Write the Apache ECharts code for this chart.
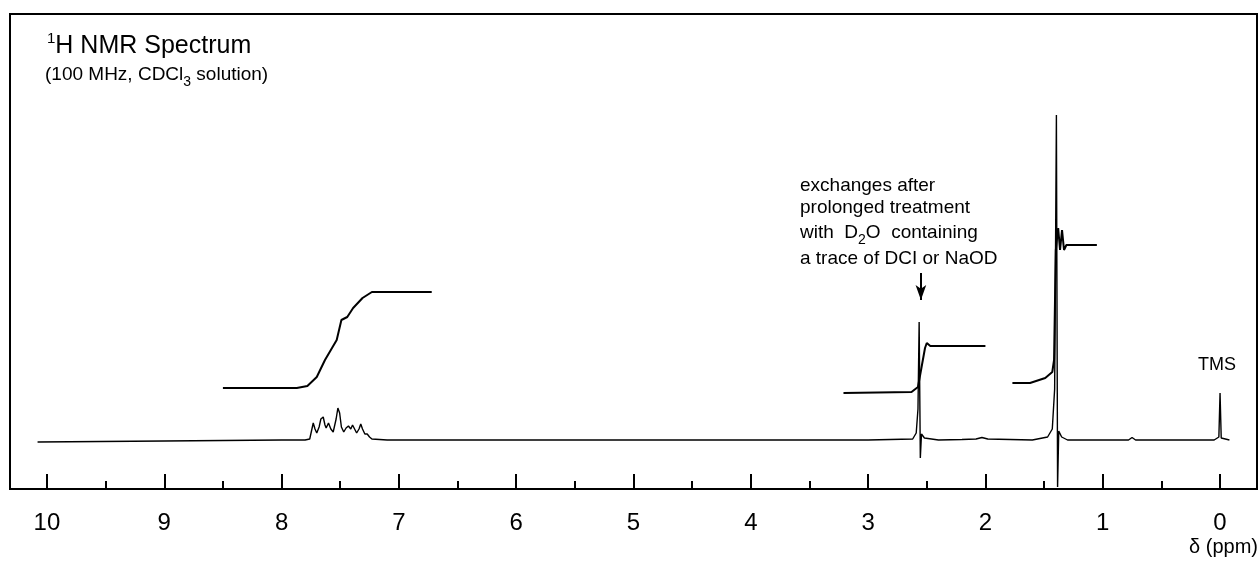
<!DOCTYPE html>
<html>
<head>
<meta charset="utf-8">
<script src="https://cdn.jsdelivr.net/npm/echarts@6/dist/echarts.min.js"></script>
<style>html,body{margin:0;padding:0;background:#fff}#c{width:1260px;height:561px}</style>
</head>
<body>
<div id="c"></div>
<script>
// ---- data (chemical shift in ppm, intensity in arbitrary units) ----
var majorTicks = [0,1,2,3,4,5,6,7,8,9,10];
var minorTicks = [0.5,1.5,2.5,3.5,4.5,5.5,6.5,7.5,8.5,9.5];

var specPpm = [10.08, 9.0, 8.0, 7.80, 7.76, 7.745, 7.73, 7.715, 7.70, 7.68, 7.665, 7.645, 7.63, 7.62, 7.60, 7.58, 7.56, 7.535, 7.52, 7.505, 7.49, 7.47, 7.45, 7.43, 7.41, 7.395, 7.38, 7.36, 7.34, 7.325, 7.31, 7.29, 7.27, 7.25, 7.23, 7.1, 5.0, 3.0, 2.62, 2.59, 2.575, 2.565, 2.555, 2.545, 2.52, 2.4, 2.2, 2.08, 2.03, 1.98, 1.6, 1.47, 1.43, 1.41, 1.395, 1.385, 1.375, 1.35, 1.3, 0.78, 0.75, 0.72, 0.05, 0.01, 0.0, -0.01, -0.08];
var specInt = [47, 48, 49, 49, 50, 58, 66, 60, 56, 62, 70, 72, 64, 61, 66, 60, 57, 70, 81, 76, 62, 57, 61, 63, 60, 64, 62, 56, 60, 65, 60, 55, 55, 52, 50, 49, 49, 49, 50, 56, 80, 167, 31, 55, 51, 49, 49.5, 50, 51.5, 50, 49, 52, 60, 100, 374, 2, 58, 52, 49, 49, 51.5, 49, 49, 52, 96, 51, 49];

var intAPpm = [8.50, 7.87, 7.78, 7.70, 7.63, 7.57, 7.53, 7.49, 7.44, 7.39, 7.31, 7.23, 6.72];
var intAVal = [101, 101, 103, 112, 129, 141, 149, 169, 172, 181, 191, 197, 197];

var intBPpm = [3.21, 2.63, 2.575, 2.515, 2.50, 2.47, 2.00];
var intBVal = [96, 97, 102, 141, 146, 143, 143];

var intCPpm = [1.77, 1.62, 1.49, 1.43, 1.415, 1.40, 1.38, 1.364, 1.347, 1.33, 1.31, 1.05];
var intCVal = [106, 106, 111, 117, 129, 239, 261, 239, 259, 239, 244, 244];

var arrowPpm = 2.55;
var arrowFrom = 216;
var arrowTo = 189;

function pairs(xs, ys){ var o=[]; for (var i=0;i<xs.length;i++) o.push([xs[i], ys[i]]); return o; }

var chart = echarts.init(document.getElementById('c'), null, {renderer:'canvas'});
var FONT = '"Liberation Sans", Arial, Helvetica, sans-serif';
var lineBase = {type:'line', showSymbol:false, symbol:'none', animation:false, silent:true, xAxisIndex:0, yAxisIndex:0};

chart.setOption({
  animation:false,
  backgroundColor:'#fff',
  grid:{left:10, right:3, top:14, bottom:72, show:true, borderColor:'#000', borderWidth:2, backgroundColor:'transparent'},
  xAxis:[{
    type:'value', inverse:true, min:-0.315, max:10.315, position:'bottom',
    splitLine:{show:false},
    axisLine:{show:true, lineStyle:{color:'#000', width:2}},
    axisTick:{show:true, inside:true, length:15, lineStyle:{color:'#000', width:2}, customValues:majorTicks},
    axisLabel:{show:true, customValues:majorTicks, margin:22, color:'#000', fontSize:24, fontFamily:FONT}
  },{
    type:'value', inverse:true, min:-0.315, max:10.315, position:'bottom',
    splitLine:{show:false},
    axisLine:{show:false},
    axisTick:{show:true, inside:true, length:8, lineStyle:{color:'#000', width:2}, customValues:minorTicks},
    axisLabel:{show:false}
  }],
  yAxis:{type:'value', min:0, max:475, show:false, splitLine:{show:false}},
  graphic:[
    {type:'text', left:47, top:31, style:{
      text:'{sup|1}{t|H NMR Spectrum}',
      rich:{sup:{fontSize:15, fontFamily:FONT, fill:'#000', verticalAlign:'top', lineHeight:30},
            t:{fontSize:25, fontFamily:FONT, fill:'#000', lineHeight:30}}}},
    {type:'text', left:45, top:65, style:{
      text:'{t|(100 MHz, CDCl}{sub|3}{t| solution)}',
      rich:{t:{fontSize:19, fontFamily:FONT, fill:'#000', lineHeight:24},
            sub:{fontSize:14, fontFamily:FONT, fill:'#000', verticalAlign:'bottom', lineHeight:30}}}},
    {type:'text', left:800, top:176, style:{
      text:'{t|exchanges after}\n{t|prolonged treatment}\n{t|with  D}{sub|2}{t|O  containing}\n{t|a trace of DCI or NaOD}',
      rich:{t:{fontSize:19, fontFamily:FONT, fill:'#000', lineHeight:22.5},
            sub:{fontSize:14, fontFamily:FONT, fill:'#000', verticalAlign:'bottom', lineHeight:28}}}},
    {type:'text', left:1198, top:356, style:{text:'TMS', fontSize:18, fontFamily:FONT, fill:'#000'}},
    {type:'text', right:2, top:537, style:{text:'δ (ppm)', fontSize:20, fontFamily:FONT, fill:'#000'}}
  ],
  series:[
    Object.assign({}, lineBase, {
      name:'spectrum', data:pairs(specPpm, specInt),
      lineStyle:{color:'#000', width:1.4},
      markLine:{silent:true, animation:false, symbol:['none','arrow'], symbolSize:[8, 15],
        label:{show:false}, lineStyle:{color:'#000', width:2, type:'solid'},
        data:[[{coord:[arrowPpm, arrowFrom]}, {coord:[arrowPpm, arrowTo]}]]}
    }),
    Object.assign({}, lineBase, {name:'intA', data:pairs(intAPpm, intAVal), lineStyle:{color:'#000', width:2}}),
    Object.assign({}, lineBase, {name:'intB', data:pairs(intBPpm, intBVal), lineStyle:{color:'#000', width:2}}),
    Object.assign({}, lineBase, {name:'intC', data:pairs(intCPpm, intCVal), lineStyle:{color:'#000', width:2}})
  ]
});
</script>
</body>
</html>
